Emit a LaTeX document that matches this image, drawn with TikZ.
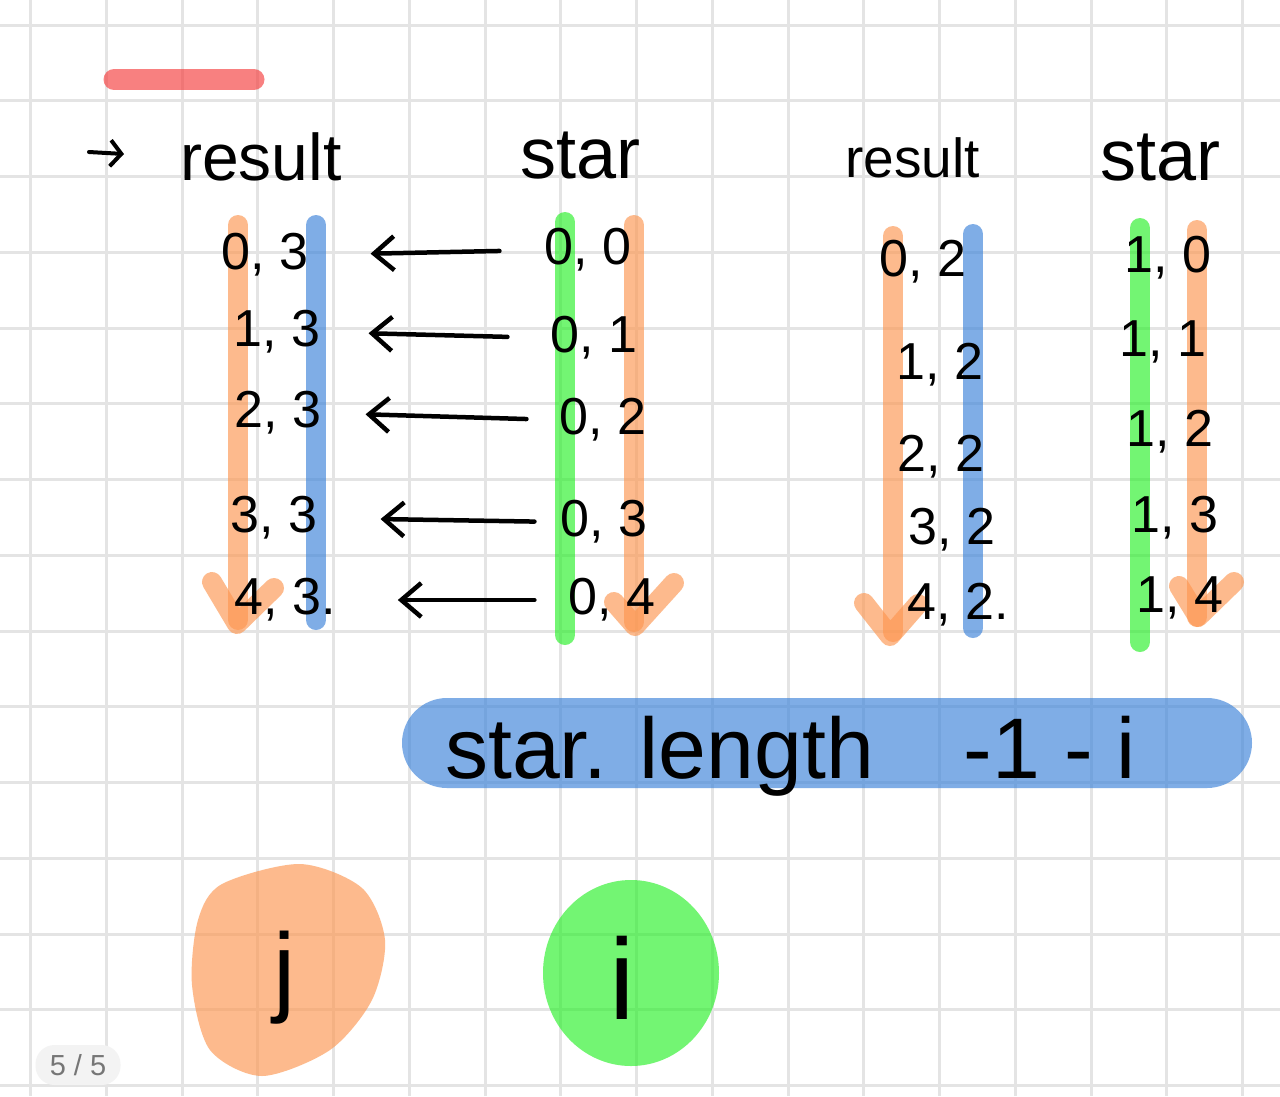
\documentclass[tikz,border=0pt]{standalone}
\usepackage{fontspec}
\setmainfont{Liberation Sans}
\usetikzlibrary{arrows.meta}
\definecolor{gridc}{HTML}{E4E4E4}
\definecolor{hlorange}{RGB}{253,150,80}
\definecolor{hlblue}{RGB}{59,130,218}
\definecolor{hlgreen}{RGB}{40,240,40}
\definecolor{hlred}{RGB}{245,60,60}
\definecolor{badgefill}{HTML}{F3F3F3}
\definecolor{badgetext}{HTML}{767676}
\newcommand{\fs}[1]{\fontsize{#1}{#1}\selectfont}
\begin{document}
\begin{tikzpicture}[x=1pt,y=-1pt,
  gridline/.style={gridc, line width=3pt},
  hl/.style={line width=20pt, line cap=round, line join=round, opacity=0.65},
  hlo/.style={hl, draw=hlorange},
  hlb/.style={hl, draw=hlblue},
  hlg/.style={hl, draw=hlgreen},
  num/.style={inner sep=0pt, font=\fs{52}},
  head/.style={inner sep=0pt, anchor=base west},
  conn/.style={line width=4.5pt, line cap=round, -{Straight Barb[length=20pt,width=34pt,line width=4.5pt]}},
  badge/.style={fill=badgefill, rounded corners=19pt, minimum width=85pt, minimum height=40pt, inner sep=0pt, text=badgetext, font=\fs{29}}
]
\useasboundingbox (0,0) rectangle (1280,1096);
\fill[white] (0,0) rectangle (1280,1096);
% grid
\foreach \i in {0,...,16} \draw[gridline] ({30.7+\i*75.75},0) -- ({30.7+\i*75.75},1096);
\foreach \j in {0,...,14} \draw[gridline] (0,{25+\j*75.75}) -- (1280,{25+\j*75.75});

% red bar
\draw[hl, draw=hlred, line width=21pt] (114,79.5) -- (254,79.5);

% highlight bars, left group
\draw[hlo] (238,225) -- (238,620);
\draw[hlo] (212,582) -- (237,624) -- (274,588);
\draw[hlb] (316,225) -- (316,620);
\draw[hlg] (565,222) -- (565,635);
\draw[hlo] (634,225) -- (634,622);
\draw[hlo] (614,602) -- (635,626) -- (674,583);

% highlight bars, right group
\draw[hlo] (893,236) -- (893,632);
\draw[hlo] (864,603) -- (890,636) -- (918,604);
\draw[hlb] (973,234) -- (973,628);
\draw[hlg] (1140,228) -- (1140,642);
\draw[hlo] (1197,230) -- (1197,617);
\draw[hlo] (1179,586) -- (1198,617) -- (1234,582);

% blue pill
\fill[hlblue, opacity=0.65, rounded corners=45pt] (402,698) rectangle (1252,788);

% blobs
\fill[hlorange, opacity=0.65] plot[smooth cycle] coordinates {(222,884) (300,864) (362,888) (385,940) (372,1000) (330,1050) (262,1076) (210,1050) (192,985) (198,920)};
\fill[hlgreen, opacity=0.65] (631,973) ellipse [x radius=88, y radius=93];

% headings
\coordinate (ta) at (89,152);
\coordinate (tb) at (124,154);
\draw[line width=4pt, line cap=round, -{Straight Barb[length=11pt,width=26pt,line width=4pt]}] (ta) -- (tb);
\node[head, font=\fs{66}] (h1) at (180,180) {result};
\node[head, font=\fs{72}] (h2) at (520,178) {star};
\node[head, font=\fs{55}] (h3) at (845,177) {result};
\node[head, font=\fs{72}] (h4) at (1100,180) {star};

% left result column
\node[num] (r1) at (265,255) {0, 3};
\node[num] (r2) at (277,332) {1, 3};
\node[num] (r3) at (278,413) {2, 3};
\node[num] (r4) at (274,518) {3, 3};
\node[num] (r5) at (285,600) {4, 3.};
% left star column
\node[num] (s1) at (588,250) {0, 0};
\node[num] (s2) at (594,338) {0, 1};
\node[num] (s3) at (603,420) {0, 2};
\node[num] (s4) at (604,522) {0, 3};
\node[num] (s5) at (612,600) {0, 4};

% arrows star -> result
\draw[conn, shorten <=45pt, shorten >=62pt] (s1.west) -- (r1.east);
\draw[conn, shorten <=43pt, shorten >=48pt] (s2.west) -- (r2.east);
\draw[conn, shorten <=33pt, shorten >=44pt] (s3.west) -- (r3.east);
\draw[conn, shorten <=26pt, shorten >=63pt] (s4.west) -- (r4.east);
\draw[conn, shorten <=34pt, shorten >=62pt] (s5.west) -- (r5.east);

% right result column
\node[num] (q1) at (923,262) {0, 2};
\node[num] (q2) at (940,365) {1, 2};
\node[num] (q3) at (941,457) {2, 2};
\node[num] (q4) at (952,530) {3, 2};
\node[num] (q5) at (958,605) {4, 2.};
% right star column
\node[num] (t1) at (1168,258) {1, 0};
\node[num] (t2) at (1163,342) {1, 1};
\node[num] (t3) at (1170,432) {1, 2};
\node[num] (t4) at (1175,518) {1, 3};
\node[num] (t5) at (1180,598) {1, 4};

% formula
\node[head, font=\fs{86}] (f) at (445,778) {star. length\hspace{90pt}-1 - i};

% j and i
\node[inner sep=0pt, font=\fs{100}] (j) at (285,978) {j};
\node[inner sep=0pt, font=\fs{115}] (i) at (622,978) {i};

% page badge
\node[badge] (pg) at (78,1065) {5 / 5};
\end{tikzpicture}
\end{document}
